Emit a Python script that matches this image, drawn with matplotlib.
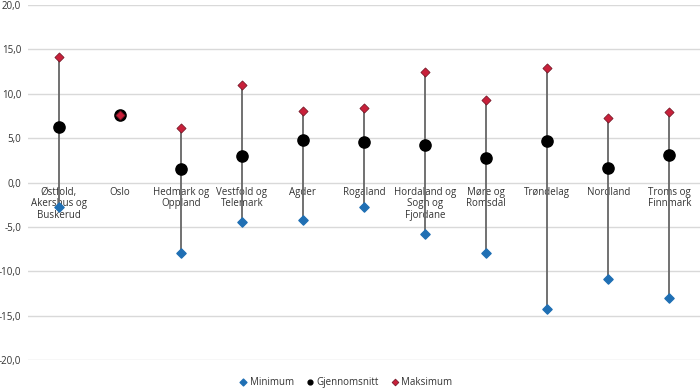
import matplotlib.pyplot as plt
from matplotlib.ticker import FuncFormatter

plt.rcParams['font.family'] = ['Open Sans', 'DejaVu Sans']

regions = ["Østfold,\nAkershus og\nBuskerud", "Oslo", "Hedmark og\nOppland", "Vestfold og\nTelemark",
           "Agder", "Rogaland", "Hordaland og\nSogn og\nFjordane", "Møre og\nRomsdal", "Trøndelag",
           "Nordland", "Troms og\nFinnmark"]
minimum = [-2.8, 7.6, -7.9, -4.5, -4.2, -2.8, -5.8, -7.9, -14.2, -10.9, -13.0]
mean = [6.3, 7.6, 1.5, 3.0, 4.8, 4.6, 4.2, 2.8, 4.7, 1.6, 3.1]
maximum = [14.2, 7.6, 6.2, 11.0, 8.1, 8.4, 12.5, 9.3, 12.9, 7.3, 8.0]

fig = plt.figure(figsize=(7, 3.88), dpi=100)
ax = fig.add_axes([0.04, 0.072, 0.96, 0.915])

x = list(range(len(regions)))
ax.vlines(x, minimum, maximum, color='#666666', linewidth=1.3, zorder=2)
ax.scatter(x, minimum, marker='D', s=22, color='#1f6fb4', zorder=3, label='Minimum')
ax.scatter(x, mean, marker='o', s=65, color='black', zorder=4, label='Gjennomsnitt')
ax.scatter(x, maximum, marker='D', s=22, color='#c8203a', edgecolors='#6a1020', linewidths=0.5,
           zorder=5, label='Maksimum')

for xi, name in zip(x, regions):
    ax.text(xi, -0.5, name, ha='center', va='top', fontsize=7, color='#333333',
            linespacing=1.05, zorder=1)

ax.set_xlim(-0.5, len(regions) - 0.5)
ax.set_ylim(-20, 20)
ax.set_yticks(range(-20, 21, 5))
ax.yaxis.set_major_formatter(FuncFormatter(lambda v, p: f"{v:.1f}".replace('.', ',')))
ax.set_xticks([])
ax.grid(axis='y', color='#d9d9d9', linewidth=1)
ax.set_axisbelow(True)
ax.spines[["right", "top", "bottom", "left"]].set_visible(False)
ax.tick_params(axis='y', length=0, labelsize=7, labelcolor='#333333', pad=5)

leg = fig.legend(loc='lower center', bbox_to_anchor=(0.493, -0.022), ncol=3, frameon=False,
                 fontsize=7, handletextpad=0.1, columnspacing=1.0, handlelength=1.2)
for h in leg.legend_handles:
    h.set_sizes([12])
for t in leg.get_texts():
    t.set_color('#333333')

plt.savefig("out.png")
